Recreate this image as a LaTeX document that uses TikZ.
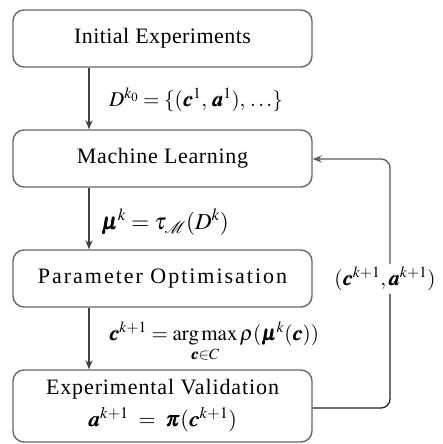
\documentclass[tikz,border=0pt]{standalone}
\usepackage{mathptmx}
\usepackage{bm}
\usepackage{fontspec}
\setmainfont{Liberation Serif}
\usetikzlibrary{arrows.meta}
\begin{document}
\begin{tikzpicture}[x=1pt,y=1pt,
  stagebox/.style={draw=black!60,line width=1.4pt,rounded corners=11pt,minimum width=299pt,inner sep=0pt,align=center,font=\fontsize{22}{26}\selectfont},
  flow/.style={draw=black!75,line width=1.3pt,-{Stealth[length=9pt,width=7pt]}},
  lab/.style={font=\fontsize{21}{25}\selectfont,inner sep=1pt}]
\useasboundingbox (0,0) rectangle (443,-444);
\node[stagebox,minimum height=57pt] (ie) at (162.5,-38.5) {\addfontfeatures{LetterSpace=2}Initial Experiments};
\node[stagebox,minimum height=57pt] (ml) at (162.5,-158.5) {\addfontfeatures{LetterSpace=3}Machine Learning};
\node[stagebox,minimum height=57pt] (po) at (162.5,-278.5) {\addfontfeatures{LetterSpace=9}Parameter Optimisation};
\node[stagebox,minimum height=72pt] (ev) at (162.5,-406) {\addfontfeatures{LetterSpace=4}Experimental Validation\\[6pt] $\bm{a}^{k+1} \;=\; \bm{\pi}(\bm{c}^{k+1})$};
\draw[flow] (ie.south -| 89,0) -- (ml.north -| 89,0);
\draw[flow] (ml.south -| 89,0) -- (po.north -| 89,0);
\draw[flow] (po.south -| 89,0) -- (ev.north -| 89,0);
\node[lab,anchor=west] (l1) at (108,-100) {$D^{k_0} = \{(\bm{c}^1,\, \bm{a}^1),\, \ldots\}$};
\node[lab,anchor=west,font=\fontsize{23}{27}\selectfont] (l2) at (100,-222) {$\bm{\mu}^{k} = \tau_{\mathcal{M}}(D^{k})$};
\node[lab,anchor=west] (l3) at (108,-342) {$\bm{c}^{k+1} = \mathop{\arg\max}\limits_{\bm{c}\in C} \rho(\bm{\mu}^{k}(\bm{c}))$};
\coordinate (fb) at (390,-408);
\node[lab,fill=white,inner sep=3pt] (fl) at (385,-279) {$(\bm{c}^{k+1},\bm{a}^{k+1})$};
\draw[line width=1.3pt,black!85,rounded corners=9pt] (ev.east |- fb) -- (fb) -- (fb |- fl.south);
\draw[line width=1.3pt,black!65,rounded corners=9pt,-{Stealth[length=9pt,width=7pt]}] (fb |- fl.north) -- (390,-159) -- (ml.east |- 0,-159);
\end{tikzpicture}
\end{document}
